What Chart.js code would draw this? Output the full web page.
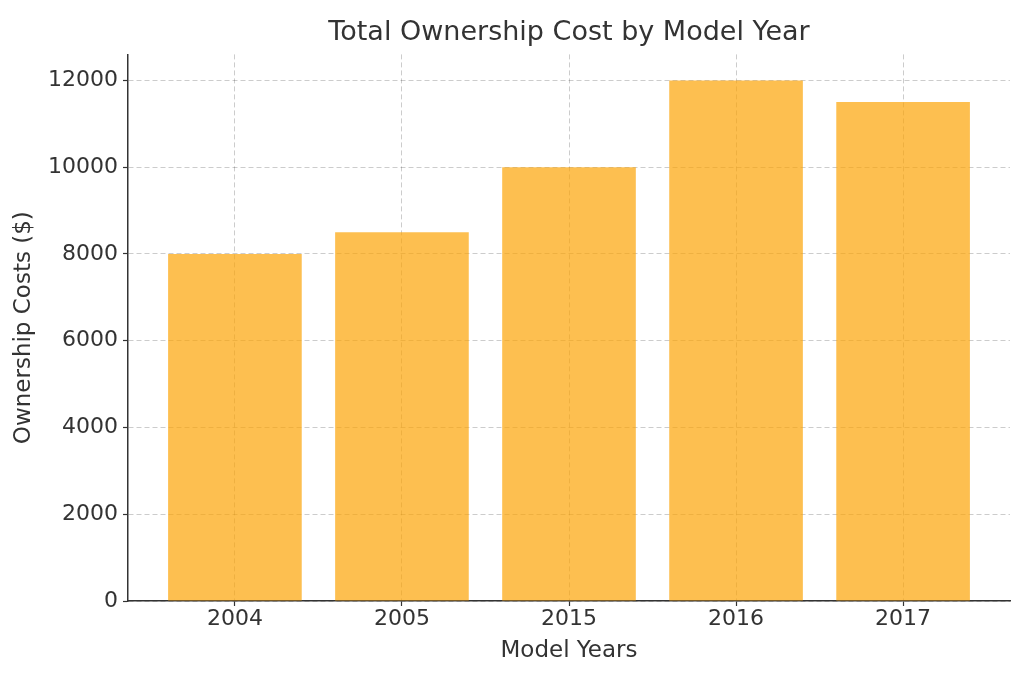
<!DOCTYPE html>
<html>
<head>
<meta charset="utf-8">
<title>Total Ownership Cost by Model Year</title>
<script src="https://cdn.jsdelivr.net/npm/chart.js@4"></script>
<style>
  body { margin: 0; background: #fff; }
</style>
</head>
<body>
<canvas id="grafico" width="1024" height="683"></canvas>
<script>
// DADOS
const modelYears = ["2004", "2005", "2015", "2016", "2017"];
const ownershipCosts = [8000, 8500, 10000, 12000, 11500];
const yTicks = [0, 2000, 4000, 6000, 8000, 10000, 12000];

const corTexto = "#333333";
const corGrade = "rgba(0,0,0,0.2)";
const fonte = "DejaVu Sans";

let pontos = [];
for (let i = 0; i < modelYears.length; i++) {
  pontos.push({ x: i, y: ownershipCosts[i] });
}

const config = {
  type: "bar",
  data: {
    datasets: [
      {
        label: "Ownership Costs",
        data: pontos,
        backgroundColor: "rgba(252, 164, 5, 0.7)",
        borderWidth: 0,
        categoryPercentage: 0.8,
        barPercentage: 1.0,
      },
    ],
  },
  options: {
    responsive: false,
    animation: false,
    layout: { padding: { left: 0, right: 14, top: 0, bottom: 0 } },
    plugins: {
      legend: { display: false },
      tooltip: { enabled: false },
      title: {
        display: true,
        fullSize: false,
        text: "Total Ownership Cost by Model Year",
        color: corTexto,
        font: { family: fonte, size: 27, weight: "normal" },
        padding: { top: 17, bottom: 5 },
      },
    },
    scales: {
      x: {
        type: "linear",
        offset: false,
        min: -0.64,
        max: 4.64,
        afterBuildTicks: (scale) => {
          scale.ticks = modelYears.map((_, i) => ({ value: i }));
        },
        afterFit: (scale) => {
          scale.height = 82;
        },
        ticks: {
          color: corTexto,
          font: { family: fonte, size: 22 },
          padding: 0,
          maxRotation: 0,
          callback: (value) => modelYears[value],
        },
        grid: {
          offset: false,
          color: corGrade,
          lineWidth: 1,
          tickColor: corTexto,
          tickLength: 5,
          tickWidth: 1.2,
          tickBorderDash: [],
        },
        border: { display: true, color: corTexto, width: 1.5, dash: [5, 3] },
        title: {
          display: true,
          text: "Model Years",
          color: corTexto,
          font: { family: fonte, size: 23 },
          padding: { top: 1, bottom: 18 },
        },
      },
      y: {
        min: 0,
        max: 12600,
        afterBuildTicks: (scale) => {
          scale.ticks = yTicks.map((v) => ({ value: v }));
        },
        afterFit: (scale) => {
          scale.width = 128;
        },
        ticks: {
          color: corTexto,
          font: { family: fonte, size: 22 },
          padding: 5,
          callback: (value) => String(value),
        },
        grid: {
          color: corGrade,
          lineWidth: 1,
          tickColor: corTexto,
          tickLength: 5,
          tickWidth: 1.2,
          tickBorderDash: [],
        },
        border: { display: true, color: corTexto, width: 1.5, dash: [5, 3] },
        title: {
          display: true,
          text: "Ownership Costs ($)",
          color: corTexto,
          font: { family: fonte, size: 23 },
          padding: { top: 10, bottom: 0 },
        },
      },
    },
  },
};

window.onload = () => {
  const ctx = document.getElementById("grafico");
  new Chart(ctx, config);
};
</script>
</body>
</html>
